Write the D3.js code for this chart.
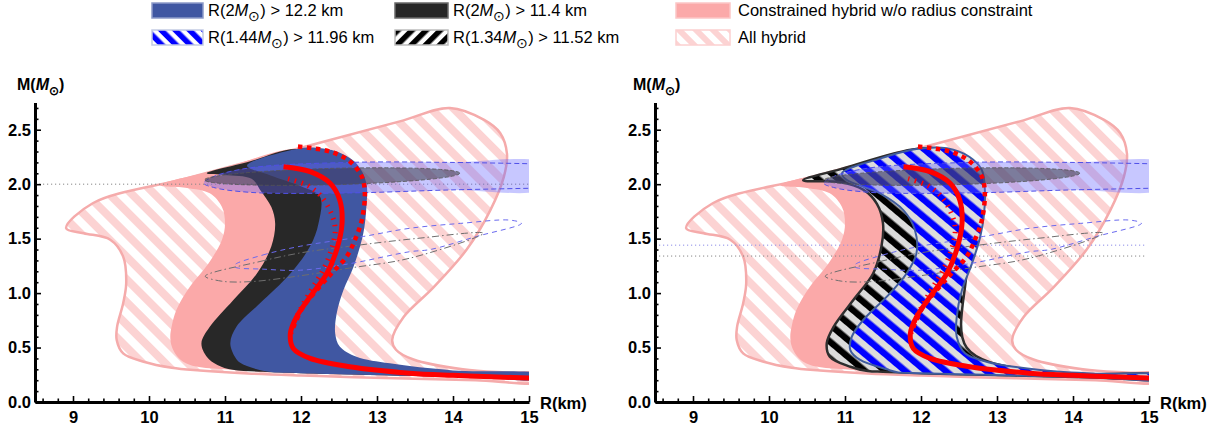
<!DOCTYPE html>
<html><head><meta charset="utf-8">
<script src="https://cdn.jsdelivr.net/npm/d3@7"></script>
<style>
body{margin:0;background:#fff}
svg{display:block}
text{font-family:"Liberation Sans",Arial,sans-serif}
</style>
</head><body>
<svg id="c" width="1215" height="427"></svg>
<script>
// ---------------- data (R in km, M in solar masses) ----------------
const rTicks = [9, 10, 11, 12, 13, 14, 15];
const mTicks = [0, 0.5, 1.0, 1.5, 2.0, 2.5];

const allHybrid = [[8.91,1.595],[9.26,1.825],[10.5,2.056],[12.0,2.335],[13.3,2.577],[13.96,2.70],[14.41,2.59],[14.62,2.47],[14.71,2.28],[14.67,2.07],[14.49,1.76],[14.18,1.40],[13.74,1.05],[13.35,0.78],[13.20,0.57],[13.25,0.48],[13.48,0.39],[14.13,0.30],[14.7,0.27],[15.2,0.255],[15.2,0.188],[14.3,0.20],[13.5,0.213],[12.7,0.228],[12.0,0.243],[11.3,0.262],[10.67,0.29],[10.3,0.315],[9.93,0.37],[9.66,0.447],[9.575,0.57],[9.58,0.69],[9.66,0.906],[9.70,1.09],[9.66,1.335],[9.49,1.49],[9.14,1.55]];

const constrainedHybrid = [[10.62,0.325],[10.45,0.37],[10.36,0.43],[10.30,0.51],[10.28,0.60],[10.30,0.70],[10.36,0.845],[10.54,1.06],[10.78,1.27],[10.96,1.49],[11.0,1.64],[10.96,1.79],[10.80,1.916],[10.50,1.965],[10.14,1.99],[11.0,2.149],[11.94,2.324],[12.5,2.2],[12.6,1.8],[12.45,1.2],[12.2,0.8],[12.3,0.45],[12.8,0.33],[13.5,0.26],[15.2,0.235],[15.2,0.212],[14.3,0.226],[13.5,0.238],[12.7,0.252],[12.0,0.265],[11.5,0.278],[11.0,0.30]];

const r2m114 = [[11.1,0.295],[10.9,0.34],[10.76,0.416],[10.69,0.54],[10.80,0.69],[11.11,0.937],[11.42,1.18],[11.61,1.43],[11.66,1.64],[11.61,1.79],[11.46,1.95],[11.35,2.05],[11.0,2.085],[10.76,2.10],[11.3,2.203],[11.94,2.324],[12.5,2.2],[12.6,1.6],[12.3,1.0],[12.2,0.5],[12.8,0.33],[15.2,0.235],[15.2,0.212],[14.3,0.226],[13.5,0.238],[12.7,0.252],[12.0,0.265],[11.5,0.278]];

const r2m122 = [[11.55,0.28],[11.2,0.36],[11.13,0.416],[11.07,0.54],[11.15,0.69],[11.46,0.906],[11.86,1.18],[12.12,1.43],[12.23,1.64],[12.25,1.885],[12.0,1.98],[11.6,2.08],[11.29,2.17],[11.94,2.324],[12.2,2.335],[12.47,2.30],[12.73,2.19],[12.86,2.01],[12.86,1.79],[12.82,1.55],[12.69,1.24],[12.56,1.03],[12.47,0.815],[12.45,0.63],[12.51,0.51],[12.73,0.416],[13.17,0.355],[14.0,0.29],[15.2,0.25],[15.2,0.212],[14.3,0.226],[13.5,0.238],[12.7,0.252],[12.0,0.265]];

const r134 = [[11.3,0.285],[11.07,0.324],[10.80,0.416],[10.76,0.54],[10.85,0.69],[11.11,0.937],[11.37,1.18],[11.48,1.43],[11.50,1.64],[11.42,1.82],[11.24,1.95],[10.93,2.02],[10.45,2.035],[10.93,2.136],[11.94,2.324],[12.3,2.3],[12.7,1.9],[12.6,1.2],[12.6,0.5],[13.5,0.28],[15.2,0.24],[15.2,0.212],[14.3,0.226],[13.5,0.238],[12.7,0.252],[12.0,0.265],[11.5,0.278]];

const r144 = [[11.7,0.272],[11.55,0.30],[11.2,0.386],[11.07,0.477],[11.09,0.60],[11.24,0.753],[11.55,0.967],[11.81,1.18],[11.94,1.365],[11.92,1.58],[11.77,1.76],[11.46,1.916],[11.02,2.04],[10.96,2.10],[11.46,2.235],[11.94,2.324],[12.34,2.33],[12.64,2.25],[12.80,2.13],[12.84,1.95],[12.83,1.73],[12.78,1.52],[12.67,1.27],[12.54,1.03],[12.47,0.78],[12.47,0.60],[12.58,0.447],[12.86,0.37],[13.57,0.294],[14.3,0.26],[15.2,0.245],[15.2,0.212],[14.3,0.226],[13.5,0.238],[12.7,0.252],[12.0,0.265]];

const redSolid = [[11.77,2.16],[12.12,2.115],[12.38,2.01],[12.51,1.855],[12.54,1.64],[12.47,1.40],[12.34,1.18],[12.12,0.967],[11.94,0.78],[11.86,0.63],[11.90,0.49],[12.12,0.40],[12.64,0.324],[13.43,0.265],[14.0,0.245],[14.5,0.232],[15.2,0.215]];
const redDotted = [[11.96,2.345],[12.38,2.30],[12.64,2.21],[12.80,2.07],[12.84,1.916],[12.80,1.67],[12.71,1.49],[12.60,1.334],[12.40,1.18],[12.21,1.03],[12.03,0.875],[11.92,0.72],[11.87,0.63]];
const redTicks = [[11.83,2.05],[12.08,1.99],[12.25,1.90],[12.40,1.73],[12.45,1.58],[12.40,1.40],[12.29,1.21],[12.16,1.06],[12.01,0.875],[11.90,0.72]];

const bandTop = [[10.72,2.01],[10.85,2.07],[11.33,2.15],[12.64,2.20],[13.96,2.20],[15.2,2.185]];
const bandBottom = [[15.2,1.965],[13.96,1.947],[12.64,1.92],[11.33,1.925],[10.85,1.97]];
const massEllipse = {R: 12.41, M: 2.07, rR: 1.68, rM: 0.075, tilt: -1.5};

const lens144 = [[11.13,1.26],[11.5,1.35],[11.99,1.43],[12.82,1.52],[13.43,1.595],[14.1,1.64],[14.75,1.67],[14.90,1.64],[14.31,1.52],[13.70,1.40],[13.43,1.38],[12.64,1.27],[11.99,1.21],[11.5,1.22],[11.13,1.24]];
const lens134 = [[10.74,1.155],[11.46,1.29],[12.0,1.37],[12.64,1.43],[13.5,1.50],[14.40,1.55],[13.43,1.32],[12.64,1.23],[12.0,1.16],[11.33,1.105],[10.95,1.11]];

const refLeft = [2.0];
const refRight = [1.44, 1.34];

const legendPre = [["R(2", "R(2", ""], ["R(1.44", "R(1.34", ""]];
const legendPost = [[") > 12.2 km", ") > 11.4 km", "Constrained hybrid w/o radius constraint"], [") > 11.96 km", ") > 11.52 km", "All hybrid"]];

// ---------------- drawing ----------------
const svg = d3.select('#c');
const defs = svg.append('defs');
function stripes(id, w, frac, angle, fg, bg) {
  const p = defs.append('pattern').attr('id', id).attr('patternUnits', 'userSpaceOnUse')
    .attr('width', w).attr('height', w).attr('patternTransform', `rotate(${angle})`);
  p.append('rect').attr('width', w).attr('height', w).attr('fill', bg);
  p.append('rect').attr('width', w * frac).attr('height', w).attr('fill', fg);
}
stripes('hPink', 16, 0.5, -45, '#fcd3d3', '#ffffff');
stripes('hBlue', 13, 0.5, -50, '#0000ff', '#dcdcdc');
stripes('hBlack', 13, 0.5, -50, '#000000', '#dcdcdc');
stripes('lBlue', 10, 0.55, -45, '#0000ff', '#ffffff');
stripes('lBlack', 10, 0.55, 45, '#000000', '#ffffff');
stripes('lPink', 12, 0.5, -45, '#fcd3d3', '#ffffff');

const x = d3.scaleLinear().domain([8.5, 15]).range([35, 529]);
const y = d3.scaleLinear().domain([0, 2.75]).range([402, 102.5]);
const closed = d3.line().x(d => x(d[0])).y(d => y(d[1])).curve(d3.curveCatmullRomClosed.alpha(0.5));
const open = d3.line().x(d => x(d[0])).y(d => y(d[1])).curve(d3.curveCatmullRom.alpha(0.5));

function panel(offset, kind) {
  const g = svg.append('g').attr('transform', `translate(${offset},0)`);
  const cid = 'clip' + kind;
  defs.append('clipPath').attr('id', cid).append('rect')
    .attr('x', x(8.5)).attr('y', y(2.75)).attr('width', x(15) - x(8.5)).attr('height', y(0) - y(2.75));
  const p = g.append('g').attr('clip-path', `url(#${cid})`);

  p.append('path').attr('d', closed(allHybrid)).attr('fill', 'url(#hPink)')
    .attr('stroke', '#f5abab').attr('stroke-width', 2.5);
  p.append('path').attr('d', closed(constrainedHybrid)).attr('fill', '#fba9a9');

  const refs = kind === 'L' ? refLeft : refRight;
  refs.forEach((m, i) => {
    p.append('line').attr('x1', x(8.5)).attr('x2', x(kind === 'L' ? 15 : 14.95))
      .attr('y1', y(m)).attr('y2', y(m))
      .attr('stroke', kind === 'R' && i === 0 ? '#8c8ce8' : '#888')
      .attr('stroke-width', 1).attr('stroke-dasharray', '1.2,2.8');
  });

  if (kind === 'L') {
    p.append('path').attr('d', closed(r2m114)).attr('fill', '#282828');
    p.append('path').attr('d', closed(r2m122)).attr('fill', '#4057a2');
  } else {
    p.append('path').attr('d', closed(r134)).attr('fill', 'url(#hBlack)')
      .attr('stroke', '#2e2e2e').attr('stroke-width', 2.5);
    p.append('path').attr('d', closed(r144)).attr('fill', 'url(#hBlue)')
      .attr('stroke', '#3f5c9e').attr('stroke-width', 2);
  }

  // 2 M_sun mass band
  p.append('path').attr('d', open(bandTop.concat(bandBottom)) + 'Z')
    .attr('fill', 'rgba(100,100,255,0.36)');
  p.append('path').attr('d', open(bandBottom.concat(bandTop)))
    .attr('fill', 'none').attr('stroke', '#5050e8').attr('stroke-width', 1).attr('stroke-dasharray', '5,3');
  const e = massEllipse;
  p.append('ellipse').attr('cx', x(e.R)).attr('cy', y(e.M))
    .attr('rx', x(e.R + e.rR) - x(e.R)).attr('ry', y(e.M) - y(e.M + e.rM))
    .attr('transform', `rotate(${e.tilt},${x(e.R)},${y(e.M)})`)
    .attr('fill', 'rgba(55,55,65,0.52)').attr('stroke', '#555').attr('stroke-width', 0.8).attr('stroke-dasharray', '4,2');

  // lower mass lenses
  p.append('path').attr('d', closed(lens144)).attr('fill', 'none')
    .attr('stroke', '#6a6aee').attr('stroke-width', 1).attr('stroke-dasharray', '5,4');
  p.append('path').attr('d', closed(lens134)).attr('fill', 'none')
    .attr('stroke', '#6e6e6e').attr('stroke-width', 1).attr('stroke-dasharray', '7,3,1.5,3');

  // red curves
  p.append('path').attr('d', open(redTicks)).attr('fill', 'none')
    .attr('stroke', '#ff0000').attr('stroke-width', 5).attr('stroke-dasharray', '1.4,5.6');
  p.append('path').attr('d', open(redDotted)).attr('fill', 'none')
    .attr('stroke', '#ff0000').attr('stroke-width', 4.5).attr('stroke-dasharray', '4.5,4.5');
  p.append('path').attr('d', open(redSolid)).attr('fill', 'none')
    .attr('stroke', '#ff0000').attr('stroke-width', 5);

  // axes
  const minorR = d3.range(8.6, 15.001, 0.2).filter(v => Math.abs(v - Math.round(v)) > 0.01);
  const minorM = d3.range(0.1, 2.75, 0.1).filter(v => Math.abs(v * 2 - Math.round(v * 2)) > 0.01);
  const styleAxis = a => {
    a.attr('font-family', null).attr('font-size', null);
    a.selectAll('text').attr('font-family', '"Liberation Sans",Arial,sans-serif')
      .attr('font-size', 16.5).attr('font-weight', 'bold').attr('fill', '#000');
    a.selectAll('.tick line').attr('stroke', '#000').attr('stroke-width', 1.6);
  };
  const xa = g.append('g').attr('transform', `translate(0,${y(0)})`)
    .call(d3.axisBottom(x).tickValues(rTicks).tickSize(-6).tickSizeOuter(0).tickPadding(9).tickFormat(d3.format('d')));
  styleAxis(xa);
  xa.select('.domain').attr('stroke', '#000').attr('stroke-width', 3);
  const xm = g.append('g').attr('transform', `translate(0,${y(0)})`)
    .call(d3.axisBottom(x).tickValues(minorR).tickSize(-3.5).tickFormat(''));
  xm.select('.domain').remove();
  styleAxis(xm);
  const ya = g.append('g').attr('transform', `translate(${x(8.5)},0)`)
    .call(d3.axisLeft(y).tickValues(mTicks).tickSize(-6).tickSizeOuter(0).tickPadding(4).tickFormat(d3.format('.1f')));
  styleAxis(ya);
  ya.select('.domain').attr('stroke', '#000').attr('stroke-width', 3);
  const ym = g.append('g').attr('transform', `translate(${x(8.5)},0)`)
    .call(d3.axisLeft(y).tickValues(minorM).tickSize(-3.5).tickFormat(''));
  ym.select('.domain').remove();
  styleAxis(ym);

  // axis titles
  const mt = g.append('text').attr('x', kind === 'L' ? 17 : 13).attr('y', 90)
    .attr('font-size', 16).attr('font-weight', 'bold');
  mt.append('tspan').text('M(');
  mt.append('tspan').attr('font-style', 'italic').text('M');
  mt.append('tspan').attr('font-size', 12).attr('dy', 5).text('⊙');
  mt.append('tspan').attr('dy', -5).text(')');
  g.append('text').attr('x', 540).attr('y', 409).attr('font-size', 16.5).attr('font-weight', 'bold').text('R(km)');
}
panel(0, 'L');
panel(620, 'R');

// legend
const swX = [152, 395, 676], swW = [51, 53, 54], txX = [208, 453, 738];
const rowY = [3, 30], rowBase = [16, 43];
const swFill = [['#4057a2', '#282828', '#fba9a9'], ['url(#lBlue)', 'url(#lBlack)', 'url(#lPink)']];
const swStroke = [['#8d9bc9', '#6a6a6a', '#fcc6c6'], ['#c3cbe4', '#bdbdbd', '#fcd0d0']];
const lg = svg.append('g');
for (let r = 0; r < 2; r++) {
  for (let c = 0; c < 3; c++) {
    lg.append('rect').attr('x', swX[c]).attr('y', rowY[r]).attr('width', swW[c]).attr('height', 15)
      .attr('fill', swFill[r][c]).attr('stroke', swStroke[r][c]).attr('stroke-width', 1.5);
    const t = lg.append('text').attr('x', txX[c]).attr('y', rowBase[r]).attr('font-size', 16.5).attr('fill', '#000');
    if (legendPre[r][c]) {
      t.append('tspan').text(legendPre[r][c]);
      t.append('tspan').attr('font-style', 'italic').text('M');
      t.append('tspan').attr('font-size', 14).attr('dy', 5).text('⊙');
      t.append('tspan').attr('dy', -5).text(legendPost[r][c]);
    } else {
      t.text(legendPost[r][c]);
    }
  }
}
</script>
</body></html>
